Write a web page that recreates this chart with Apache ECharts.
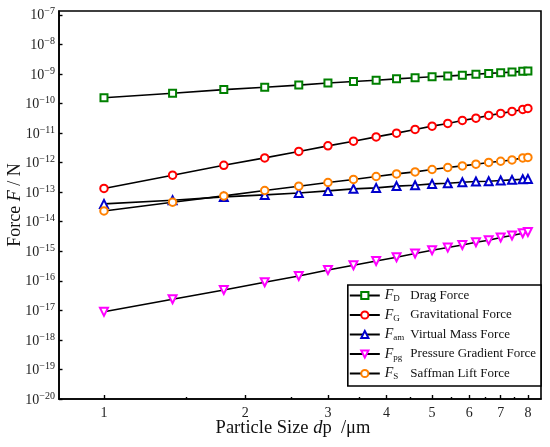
<!DOCTYPE html>
<html><head><meta charset="utf-8">
<script src="https://cdn.jsdelivr.net/npm/echarts@6/dist/echarts.min.js"></script>
<style>html,body{margin:0;padding:0;background:#fff}#c{width:550px;height:447px}</style>
</head><body><div id="c"></div>
<script>
const particleSize = [1.0, 1.4, 1.8, 2.2, 2.6, 3.0, 3.4, 3.8, 4.2, 4.6, 5.0, 5.4, 5.8, 6.2, 6.6, 7.0, 7.4, 7.8, 8.0];
const dragForce = [1.56e-10, 2.22e-10, 2.95e-10, 3.55e-10, 4.19e-10, 4.9e-10, 5.55e-10, 6.1e-10, 6.8e-10, 7.4e-10, 8.0e-10, 8.45e-10, 9.1e-10, 9.8e-10, 1.04e-9, 1.09e-9, 1.15e-9, 1.22e-9, 1.25e-9];
const gravitationalForce = [1.33e-13, 3.74e-13, 8.1e-13, 1.44e-12, 2.38e-12, 3.68e-12, 5.3e-12, 7.4e-12, 9.9e-12, 1.32e-11, 1.71e-11, 2.11e-11, 2.67e-11, 3.19e-11, 3.94e-11, 4.61e-11, 5.38e-11, 6.29e-11, 6.8e-11];
const virtualMassForce = [3.99e-14, 5.3e-14, 6.9e-14, 8.05e-14, 9.4e-14, 1.1e-13, 1.29e-13, 1.39e-13, 1.6e-13, 1.71e-13, 1.9e-13, 2.0e-13, 2.17e-13, 2.29e-13, 2.34e-13, 2.48e-13, 2.6e-13, 2.74e-13, 2.8e-13];
const pressureGradientForce = [8.9e-18, 2.36e-17, 4.88e-17, 8.9e-17, 1.45e-16, 2.32e-16, 3.34e-16, 4.68e-16, 6.24e-16, 8.34e-16, 1.08e-15, 1.33e-15, 1.63e-15, 2.01e-15, 2.35e-15, 2.9e-15, 3.39e-15, 4.06e-15, 4.49e-15];
const saffmanLiftForce = [2.31e-14, 4.56e-14, 7.45e-14, 1.135e-13, 1.59e-13, 2.12e-13, 2.68e-13, 3.38e-13, 4.14e-13, 4.84e-13, 5.83e-13, 6.82e-13, 7.73e-13, 8.83e-13, 1.01e-12, 1.11e-12, 1.23e-12, 1.44e-12, 1.49e-12];

const seriesNames = ['Drag Force', 'Gravitational Force', 'Virtual Mass Force', 'Pressure Gradient Force', 'Saffman Lift Force'];
const seriesSubs = ['D', 'G', 'am', 'pg', 'S'];
const xMajorTicks = [1, 2, 3, 4, 5, 6, 7, 8];
const xMinorTicks = [1.5, 2.5, 3.5, 4.5, 5.5, 6.5, 7.5];
const yTickExponents = [-20, -19, -18, -17, -16, -15, -14, -13, -12, -11, -10, -9, -8, -7];

const serif = '"Liberation Serif", "Times New Roman", serif';
const lg = Math.log10;
const allData = [dragForce, gravitationalForce, virtualMassForce, pressureGradientForce, saffmanLiftForce];
const colors = ['#008000', '#ff0000', '#0000cc', '#ff00ff', '#ff8000'];
const symbols = ['emptyRect', 'emptyCircle', 'emptyTriangle', 'emptyTriangle', 'emptyCircle'];
const rotations = [0, 0, 0, 180, 0];
const sizes = [7, 7.5, 8, 8, 7.5];

const chart = echarts.init(document.getElementById('c'), null, {renderer: 'canvas'});
const series = allData.map((vals, k) => ({
  name: seriesNames[k],
  type: 'line',
  xAxisIndex: 0,
  data: particleSize.map((d, i) => [lg(d), lg(vals[i])]),
  symbol: symbols[k],
  symbolSize: sizes[k],
  symbolRotate: rotations[k],
  showAllSymbol: true,
  lineStyle: {color: '#000', width: 1.6},
  itemStyle: {color: colors[k], borderColor: colors[k], borderWidth: 1.6},
  emphasis: {disabled: true},
  animation: false
}));

const xMin = lg(0.802), xMax = 0.931;
const option = {
  animation: false,
  grid: {left: 59, right: 9, top: 11, bottom: 48, show: true, borderColor: '#000', borderWidth: 1.6, backgroundColor: 'transparent', containLabel: false, outerBoundsMode: 'none'},
  xAxis: [{
    type: 'value', min: xMin, max: xMax, position: 'bottom',
    axisLine: {show: true, onZero: false, lineStyle: {color: '#000', width: 1.6}},
    axisTick: {show: true, inside: true, length: 4, lineStyle: {color: '#000', width: 1.4}, customValues: xMajorTicks.map(lg)},
    axisLabel: {show: true, margin: 7, color: '#222', fontFamily: serif, fontSize: 14, customValues: xMajorTicks.map(lg), formatter: v => String(Math.round(Math.pow(10, v)))},
    splitLine: {show: false},
    name: '{r|Particle Size }{i|d}{r|p  /μm}', nameLocation: 'middle', nameGap: 20, nameMoveOverlap: false,
    nameTextStyle: {fontFamily: serif, fontSize: 18.5, color: '#111', padding: [0, 14, 0, 0], rich: {r: {fontFamily: serif, fontSize: 18.5, color: '#111'}, i: {fontFamily: serif, fontSize: 18.5, fontStyle: 'italic', color: '#111'}}}
  }, {
    type: 'value', min: xMin, max: xMax, position: 'bottom',
    axisLine: {show: false, onZero: false},
    axisTick: {show: true, inside: true, length: 2, lineStyle: {color: '#000', width: 1.4}, customValues: xMinorTicks.map(lg)},
    axisLabel: {show: false},
    splitLine: {show: false}
  }],
  yAxis: {
    type: 'value', min: -20, max: -6.871,
    axisLine: {show: true, onZero: false, lineStyle: {color: '#000', width: 1.6}},
    axisTick: {show: true, inside: true, length: 3.5, lineStyle: {color: '#000', width: 1.4}, customValues: yTickExponents},
    axisLabel: {show: true, margin: 4, customValues: yTickExponents,
      formatter: v => { const e = Math.round(v); return '{b|10}{s|' + (e < 0 ? '−' : '') + Math.abs(e) + '}'; },
      rich: {
        b: {fontFamily: serif, fontSize: 14, color: '#222', lineHeight: 16, verticalAlign: 'bottom', padding: [4, 0, 0, 0]},
        s: {fontFamily: serif, fontSize: 10, color: '#222', verticalAlign: 'top', lineHeight: 10}
      }},
    splitLine: {show: false},
    name: '{r|Force }{i|F}{r| / N}', nameLocation: 'middle', nameGap: 35, nameMoveOverlap: false,
    nameTextStyle: {fontFamily: serif, fontSize: 18, color: '#111', rich: {r: {fontFamily: serif, fontSize: 18, color: '#111'}, i: {fontFamily: serif, fontSize: 18, fontStyle: 'italic', color: '#111'}}}
  },
  legend: {
    orient: 'vertical', right: 9, top: 285,
    padding: [2.5, 5, 4.5, 1],
    itemWidth: 30, itemHeight: 9, itemGap: 3.5,
    borderColor: '#000', borderWidth: 1.6, backgroundColor: '#fff',
    data: seriesNames,
    selectedMode: false,
    formatter: name => { const k = seriesNames.indexOf(name); return '{i|F}{sub|' + seriesSubs[k] + '}{t|' + name + '}'; },
    textStyle: {fontFamily: serif, fontSize: 13, color: '#111', lineHeight: 16,
      rich: {
        i: {fontFamily: serif, fontSize: 14, fontStyle: 'italic', color: '#111', lineHeight: 16},
        sub: {fontFamily: serif, fontSize: 9, color: '#111', verticalAlign: 'bottom', lineHeight: 11, width: 11},
        t: {fontFamily: serif, fontSize: 13, color: '#111', lineHeight: 16, padding: [0, 0, 0, 6]}
      }}
  },
  series: series
};
chart.setOption(option);
</script>
</body></html>
